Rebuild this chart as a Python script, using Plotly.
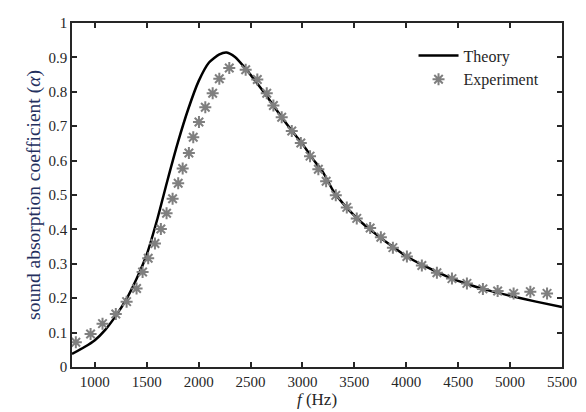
import plotly.graph_objects as go

# Theory curve
theory_f = [780, 900, 1000, 1100, 1200, 1300, 1400, 1500, 1600, 1700, 1800, 1900,
            2000, 2100, 2200, 2270, 2350, 2450, 2550, 2650, 2800, 2900, 3000, 3100,
            3200, 3300, 3400, 3500, 3600, 3700, 3800, 3900, 4000, 4200, 4400, 4600,
            4800, 5000, 5250, 5500]
theory_alpha = [0.038, 0.058, 0.078, 0.108, 0.148, 0.195, 0.255, 0.327, 0.428, 0.543,
                0.653, 0.750, 0.831, 0.885, 0.909, 0.914, 0.901, 0.868, 0.830, 0.790,
                0.726, 0.686, 0.648, 0.605, 0.565, 0.510, 0.472, 0.440, 0.412, 0.388,
                0.365, 0.343, 0.322, 0.290, 0.262, 0.240, 0.222, 0.207, 0.190, 0.174]

# Experiment points
exp_f = [817, 959, 1074, 1202, 1306, 1402, 1460, 1514, 1579, 1636, 1691, 1749, 1803,
         1846, 1906, 1948, 2003, 2064, 2135, 2199, 2295, 2453, 2565, 2656, 2720, 2800,
         2897, 2984, 3073, 3153, 3228, 3321, 3427, 3523, 3652, 3755, 3871, 4006, 4150,
         4295, 4440, 4584, 4738, 4880, 5034, 5195, 5356]
exp_alpha = [0.072, 0.096, 0.126, 0.154, 0.190, 0.228, 0.276, 0.316, 0.359, 0.401,
             0.447, 0.489, 0.534, 0.577, 0.622, 0.668, 0.712, 0.755, 0.796, 0.838,
             0.869, 0.864, 0.836, 0.796, 0.760, 0.726, 0.686, 0.651, 0.613, 0.575,
             0.540, 0.499, 0.464, 0.432, 0.404, 0.377, 0.347, 0.321, 0.295, 0.274,
             0.257, 0.243, 0.227, 0.221, 0.214, 0.219, 0.214]

x_ticks = [1000, 1500, 2000, 2500, 3000, 3500, 4000, 4500, 5000, 5500]
y_ticks = [0, 0.1, 0.2, 0.3, 0.4, 0.5, 0.6, 0.7, 0.8, 0.9, 1]

FONT = "Liberation Serif"
INK = "#262626"

fig = go.Figure()
fig.add_trace(go.Scatter(
    x=theory_f, y=theory_alpha, mode="lines", name="Theory",
    line=dict(color="black", width=2.5, shape="spline", smoothing=0.6),
))
fig.add_trace(go.Scatter(
    x=exp_f, y=exp_alpha, mode="markers", name="Experiment",
    marker=dict(symbol="asterisk-open", size=10, color="#7f7f7f",
                line=dict(color="#7f7f7f", width=2)),
))

axis_common = dict(
    showline=True, linecolor=INK, linewidth=1.5, mirror="ticks",
    ticks="inside", ticklen=5, tickwidth=1.5, tickcolor=INK,
    showgrid=False, zeroline=False,
    tickfont=dict(family=FONT, size=15, color=INK),
)

fig.update_xaxes(range=[780, 5500], tickvals=x_ticks,
                 ticktext=[str(v) for v in x_ticks],
                 title=dict(text="<i>f</i> (Hz)", font=dict(family=FONT, size=17, color=INK),
                            standoff=0),
                 **axis_common)
fig.update_yaxes(range=[0, 1], tickvals=y_ticks,
                 ticktext=[("%g" % v) for v in y_ticks],
                 title=dict(text="sound absorption coefficient (<i>α</i>)",
                            font=dict(family=FONT, size=19.5, color="#24305e"), standoff=3),
                 **axis_common)

# page body adds an 8px offset, margins compensate for it
fig.update_layout(
    width=586, height=412,
    margin=dict(l=64, r=32, t=7, b=53),
    paper_bgcolor="white", plot_bgcolor="white",
    font=dict(family=FONT, size=15, color=INK),
    legend=dict(x=0.697, y=0.955, xanchor="left", yanchor="top",
                bgcolor="rgba(0,0,0,0)", borderwidth=0,
                font=dict(family=FONT, size=16, color=INK),
                tracegroupgap=0, itemwidth=40),
    showlegend=True,
)

fig.write_html("out.html")
